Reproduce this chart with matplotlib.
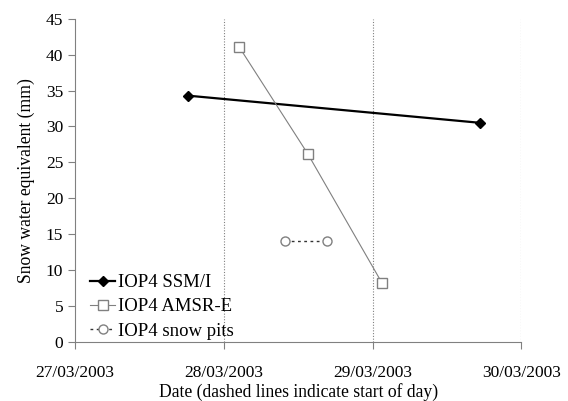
import matplotlib.pyplot as plt
import matplotlib.dates as mdates
import pandas as pd

plt.rcParams['font.family'] = ['Liberation Serif', 'DejaVu Serif']

# Data
ssmi_t = pd.to_datetime(["2003-03-27 18:09", "2003-03-29 17:24"])
ssmi_swe = [34.3, 30.5]
amsr_t = pd.to_datetime(["2003-03-28 02:28", "2003-03-28 13:32", "2003-03-29 01:30"])
amsr_swe = [41.1, 26.2, 8.2]
pits_t = pd.to_datetime(["2003-03-28 09:56", "2003-03-28 16:42"])
pits_swe = [14.1, 14.1]
day_starts = pd.to_datetime(["2003-03-28", "2003-03-29", "2003-03-30"])

fig = plt.figure(figsize=(5.68, 4.01), dpi=100)
ax = fig.add_axes([0.132, 0.148, 0.786, 0.805])

for d in day_starts:
    ax.axvline(d, color='#808080', lw=0.8, ls=(0, (1, 1.5)), zorder=1)

ax.plot(ssmi_t, ssmi_swe, color='black', lw=1.6, marker='D', ms=5.5,
        mfc='black', mec='black', label='IOP4 SSM/I', zorder=3)
ax.plot(amsr_t, amsr_swe, color='#808080', lw=0.8, marker='s', ms=7,
        mfc='white', mec='#808080', label='IOP4 AMSR-E', zorder=3)
ax.plot(pits_t, pits_swe, color='#333333', lw=1.0, ls=(0, (2, 2.5)), marker='o', ms=6.5,
        mfc='white', mec='#808080', label='IOP4 snow pits', zorder=3)

ax.set_xlim(pd.Timestamp("2003-03-27"), pd.Timestamp("2003-03-30"))
ax.set_ylim(0, 45)
ax.set_yticks(range(0, 50, 5))
ax.xaxis.set_major_locator(mdates.DayLocator())
ax.xaxis.set_major_formatter(mdates.DateFormatter('%d/%m/%Y'))

for s in ['top', 'right']:
    ax.spines[s].set_visible(False)
for s in ['left', 'bottom']:
    ax.spines[s].set_color('#808080')
ax.tick_params(colors='#808080', labelcolor='black', labelsize=12.5, length=5, direction='out')
ax.tick_params(axis='x', pad=12)

ax.set_xlabel('Date (dashed lines indicate start of day)', fontsize=12.7, labelpad=1)
ax.set_ylabel('Snow water equivalent (mm)', fontsize=12.7, labelpad=8)

ax.legend(loc='lower left', frameon=False, fontsize=13.5, handlelength=1.35,
          handletextpad=0.15, labelspacing=0.38, borderaxespad=0.0,
          bbox_to_anchor=(0.017, -0.017))

fig.savefig('out.png', dpi=100)
